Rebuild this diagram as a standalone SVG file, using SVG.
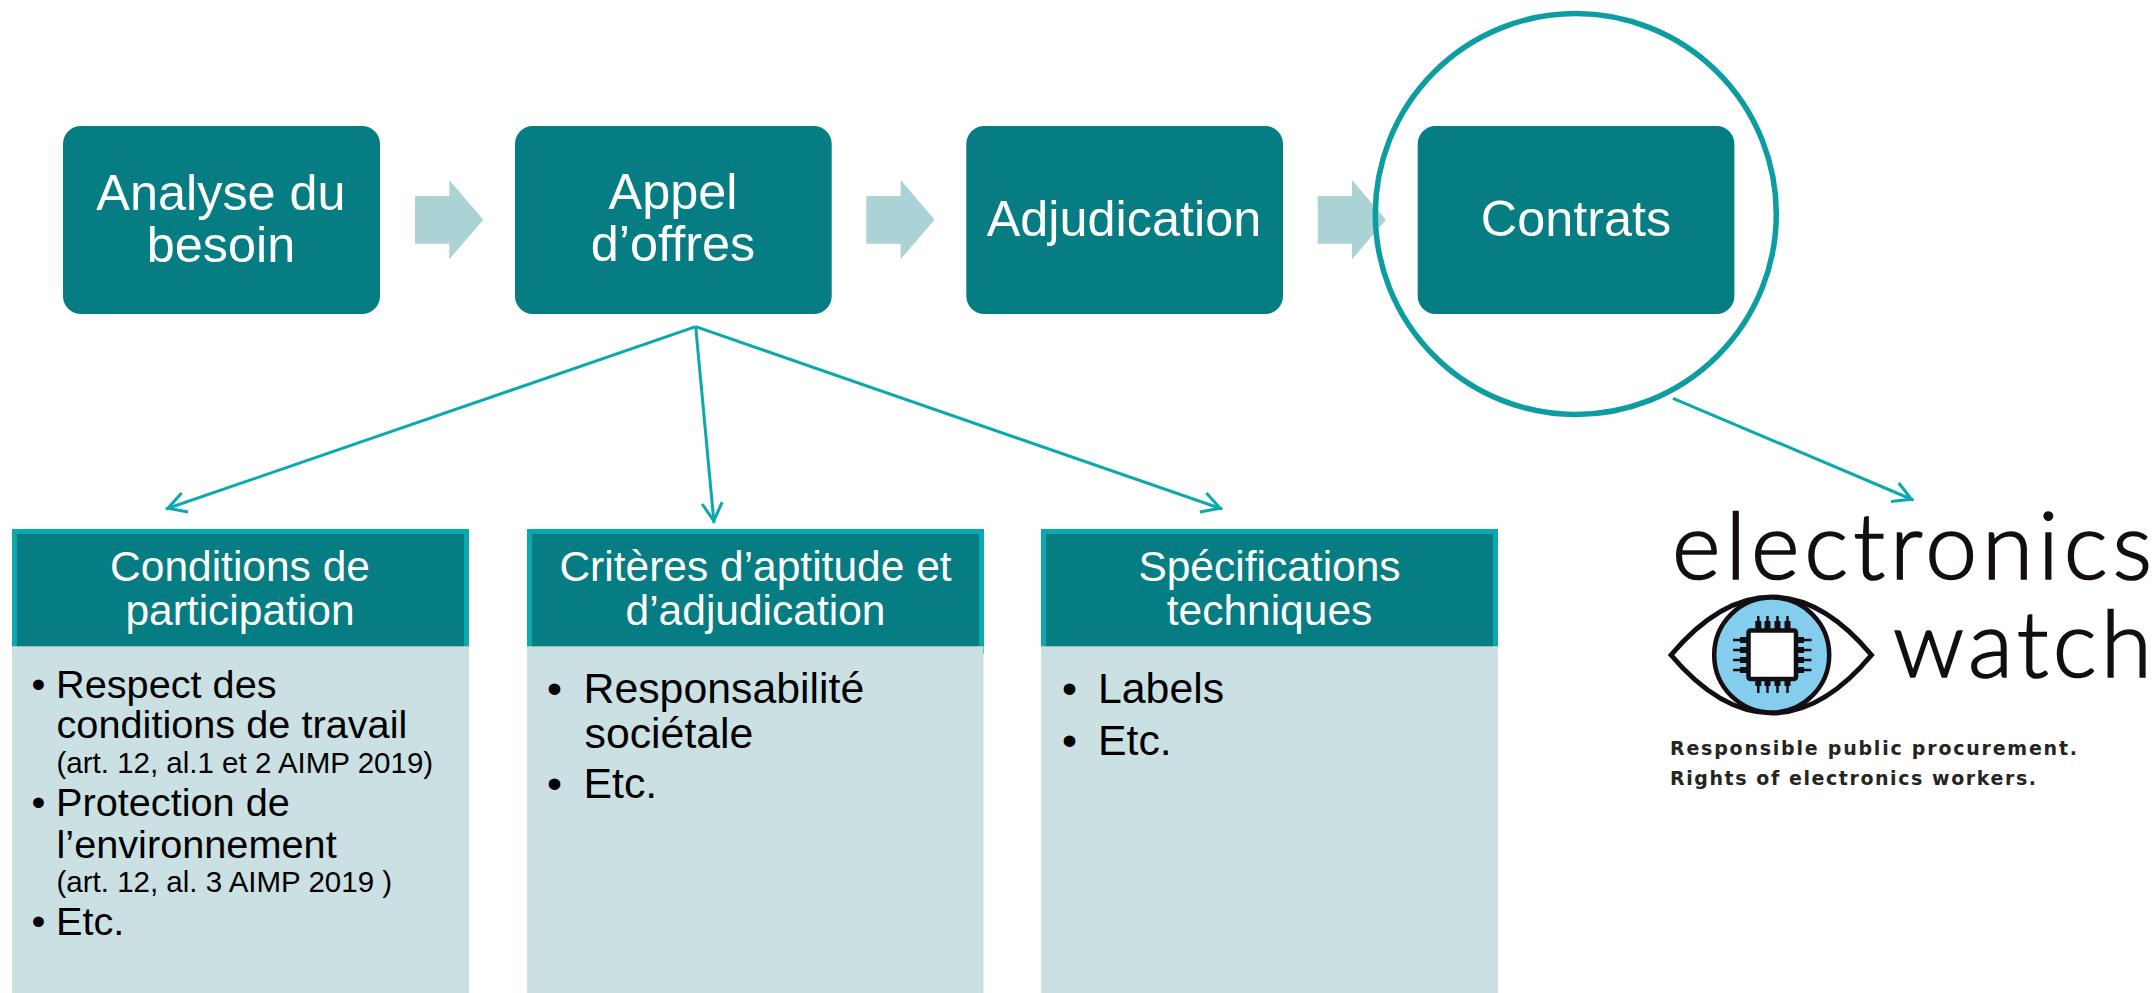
<svg xmlns="http://www.w3.org/2000/svg" width="2156" height="993" viewBox="0 0 2156 993">
<style>
text{font-family:"Liberation Sans",Arial,sans-serif}
.step{fill:#067d83}
.st{fill:#fff;font-size:50.4px;text-anchor:middle}
.arr{fill:#abd2d4}
.hd{fill:#067d83;stroke:#0aa9b0;stroke-width:5}
.body{fill:#cbe0e3}
.ht{fill:#fff;font-size:42.5px;text-anchor:middle}
.bt{fill:#000;font-size:39.7px}
.bl{fill:#000;font-size:42.8px}
.sm{fill:#000;font-size:29.5px}
.con{fill:none;stroke:#0aa9b0;stroke-width:3}
.head{fill:none;stroke:#0aa9b0;stroke-width:3}
.lg{font-family:Lato,sans-serif;fill:#120e12;font-weight:300;stroke:#120e12;stroke-width:1.7}
.tag{font-family:"DejaVu Sans",sans-serif;font-size:19px;font-weight:700;fill:#26241f}
</style>
<defs>
<marker id="open" viewBox="0 0 26 26" refX="24" refY="13" markerWidth="26" markerHeight="26" markerUnits="userSpaceOnUse" orient="auto"><path class="head" d="M4 3L22 13L4 23"/></marker>
</defs>
<rect width="2156" height="993" fill="#fff"/>
<g id="connectors">
<path class="con" marker-end="url(#open)" d="M695.7 326.7L166 509"/>
<path class="con" marker-end="url(#open)" d="M695.7 326.7L714 523"/>
<path class="con" marker-end="url(#open)" d="M695.7 326.7L1222 509"/>
<path class="con" marker-end="url(#open)" d="M1673 398.300L1913.300 500"/>
<path class="arr" d="M415 196H449.300V180L483.300 219.700L449.300 259.300V243.700H415Z"/>
<path class="arr" d="M866.300 196H900.600V180L934.600 219.700L900.600 259.300V243.700H866.300Z"/>
<path class="arr" d="M1317.700 196H1352V180L1386 219.700L1352 259.300V243.700H1317.700Z"/>
</g>
<g id="analyse"><rect class="step" x="63" y="126" width="317" height="188" rx="18"/><text class="st" x="221" y="209.500">Analyse du</text><text class="st" x="221" y="261.500">besoin</text></g>
<g id="appel"><rect class="step" x="515" y="126" width="316.700" height="188" rx="18"/><text class="st" x="673" y="209">Appel</text><text class="st" x="673" y="261">d’offres</text></g>
<g id="adjudication"><rect class="step" x="966.300" y="126" width="316.700" height="188" rx="18"/><text class="st" x="1124" y="236">Adjudication</text></g>
<g id="contrats"><rect class="step" x="1417.700" y="126" width="316.700" height="188" rx="18"/><text class="st" x="1576" y="236">Contrats</text></g>
<circle id="highlight" cx="1575.800" cy="214" r="200.500" fill="none" stroke="#0c9da3" stroke-width="5.500"/>
<g id="conditions">
<rect class="hd" x="14.500" y="531.500" width="452" height="120"/>
<rect class="body" x="12" y="646.300" width="457" height="346.700"/>
<text class="ht" x="240" y="581">Conditions de</text><text class="ht" x="240" y="625">participation</text>
<text class="bt" x="31.500" y="698">•</text><text class="bt" x="56" y="698">Respect des</text>
<text class="bt" x="56.500" y="738.300">conditions de travail</text>
<text class="sm" x="56.500" y="772.700">(art. 12, al.1 et 2 AIMP 2019)</text>
<text class="bt" x="31.500" y="816">•</text><text class="bt" x="56" y="816">Protection de</text>
<text class="bt" x="56.500" y="857.700">l’environnement</text>
<text class="sm" x="56.500" y="891.700">(art. 12, al. 3 AIMP 2019 )</text>
<text class="bt" x="31.500" y="935">•</text><text class="bt" x="56" y="935">Etc.</text>
</g>
<g id="criteres">
<rect class="hd" x="529.500" y="531.500" width="452" height="120"/>
<rect class="body" x="527" y="646.300" width="456.500" height="346.700"/>
<text class="ht" x="755.500" y="581">Critères d’aptitude et</text><text class="ht" x="755.500" y="625">d’adjudication</text>
<text class="bl" x="547" y="702.500">•</text><text class="bl" x="583.500" y="702.500">Responsabilité</text>
<text class="bl" x="584.500" y="748">sociétale</text>
<text class="bl" x="547" y="798">•</text><text class="bl" x="583.500" y="798">Etc.</text>
</g>
<g id="specifications">
<rect class="hd" x="1043.500" y="531.500" width="452" height="120"/>
<rect class="body" x="1041" y="646.300" width="457" height="346.700"/>
<text class="ht" x="1269.500" y="581">Spécifications</text><text class="ht" x="1269.500" y="625">techniques</text>
<text class="bl" x="1062" y="702.500">•</text><text class="bl" x="1098" y="702.500">Labels</text>
<text class="bl" x="1062" y="755">•</text><text class="bl" x="1098" y="755">Etc.</text>
</g>
<g id="logo">
<text class="lg" x="1672" y="578.700" font-size="93" textLength="480" lengthAdjust="spacing">electronics</text>
<text class="lg" x="1893" y="676.700" font-size="93" textLength="259" lengthAdjust="spacing">watch</text>
<path d="M1671 655Q1720 597 1771.700 597Q1823 597 1871.500 655Q1823 713 1771.700 713Q1720 713 1671 655Z" fill="#fff" stroke="#120e12" stroke-width="5"/>
<circle cx="1771.700" cy="655" r="57.500" fill="#84cdec" stroke="#120e12" stroke-width="4.500"/>
<g fill="none" stroke="#120e12" stroke-width="2.500">
<path d="M1758.300 616V634M1767.500 616V634M1777.500 616V634M1787.500 616V634M1758.300 676V693M1767.500 676V693M1777.500 676V693M1787.500 676V693"/>
<path d="M1733 640H1752M1733 650H1752M1733 660H1752M1733 670H1752M1792 640H1811.500M1792 650H1811.500M1792 660H1811.500M1792 670H1811.500"/>
</g>
<g fill="none" stroke="#120e12" stroke-width="6">
<path d="M1758.300 621V632M1767.500 621V632M1777.500 621V632M1787.500 621V632M1758.300 678V686M1767.500 678V686M1777.500 678V686M1787.500 678V686"/>
<path d="M1740 640H1750M1740 650H1750M1740 660H1750M1740 670H1750M1794 640H1804M1794 650H1804M1794 660H1804M1794 670H1804"/>
</g>
<rect x="1748.500" y="630.500" width="47.500" height="48.500" rx="2" fill="#fff" stroke="#120e12" stroke-width="4.500"/>
<text class="tag" x="1670" y="755" textLength="407" lengthAdjust="spacing">Responsible public procurement.</text>
<text class="tag" x="1670" y="785" textLength="366" lengthAdjust="spacing">Rights of electronics workers.</text>
</g>
</svg>
